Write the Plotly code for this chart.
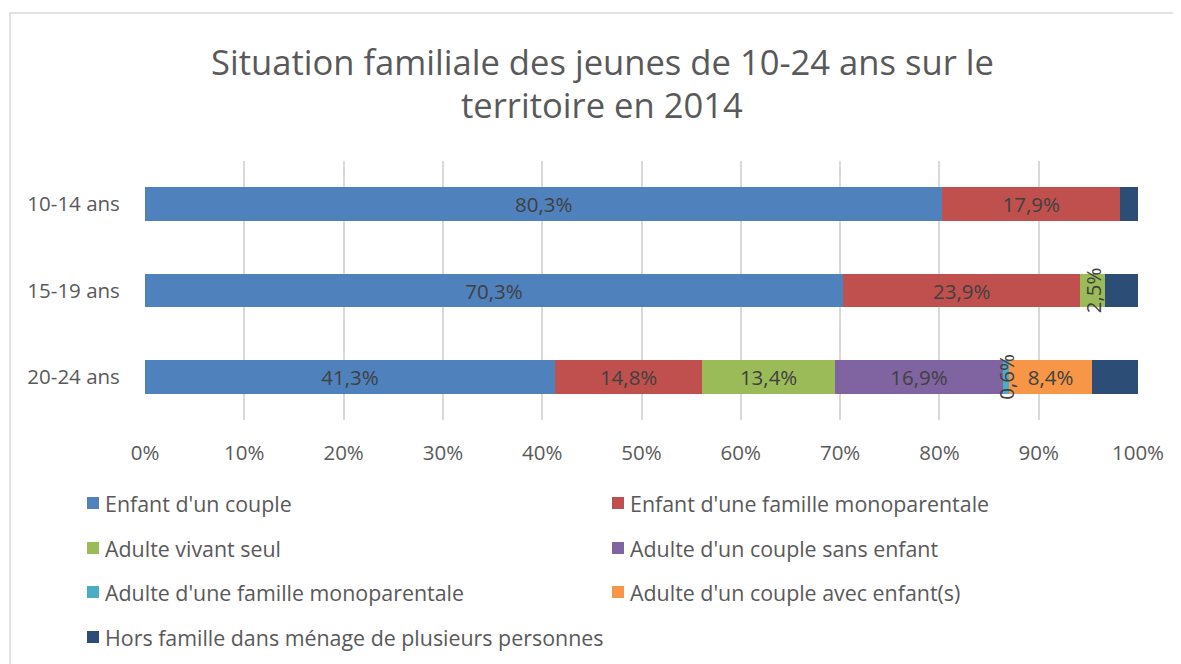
import plotly.graph_objects as go

categories = ["10-14 ans", "15-19 ans", "20-24 ans"]
series_names = [
    "Enfant d'un couple",
    "Enfant d'une famille monoparentale",
    "Adulte vivant seul",
    "Adulte d'un couple sans enfant",
    "Adulte d'une famille monoparentale",
    "Adulte d'un couple avec enfant(s)",
    "Hors famille dans ménage de plusieurs personnes",
]
enfant_couple = [80.3, 70.3, 41.3]
enfant_monoparentale = [17.9, 23.9, 14.8]
adulte_seul = [0.0, 2.5, 13.4]
adulte_couple_sans_enfant = [0.0, 0.0, 16.9]
adulte_monoparentale = [0.0, 0.0, 0.6]
adulte_couple_avec_enfant = [0.0, 0.0, 8.4]
hors_famille = [1.8, 3.3, 4.6]
colors = ["#4F81BD", "#C0504D", "#9BBB59", "#8064A2", "#4BACC6", "#F79646", "#2C4D75"]
x_ticks = [0, 10, 20, 30, 40, 50, 60, 70, 80, 90, 100]
x_tick_labels = ["0%", "10%", "20%", "30%", "40%", "50%", "60%", "70%", "80%", "90%", "100%"]
title_lines = ["Situation familiale des jeunes de 10-24 ans sur le", "territoire en 2014"]

series_values = [enfant_couple, enfant_monoparentale, adulte_seul,
                 adulte_couple_sans_enfant, adulte_monoparentale,
                 adulte_couple_avec_enfant, hors_famille]

FONT = "Open Sans"
LABEL_COLOR = "#404040"
TEXT_COLOR = "#595959"

OFF = 8  # page body margin
W, H = 1181 - OFF, 664 - OFF
L, T = 145 - OFF, 161 - OFF
PW, PH = 993, 259
R, B = W - L - PW, H - T - PH


def px(xp):
    return (xp - OFF - L) / PW


def py(yp):
    return (T + PH - (yp - OFF)) / PH


def fmt(v):
    return f"{v:.1f}".replace(".", ",") + "%"


fig = go.Figure()
annotations = []
shapes = []
cum = [0.0] * len(categories)
for i, (name, vals) in enumerate(zip(series_names, series_values)):
    texts = []
    for j, v in enumerate(vals):
        show = i < 6 and v > 0
        if show and v >= 5:
            texts.append(fmt(v))
        else:
            texts.append("")
            if show:
                annotations.append(dict(
                    x=cum[j] + v / 2, y=categories[j], xref="x", yref="y",
                    text=fmt(v), showarrow=False, textangle=-90,
                    font=dict(family=FONT, size=20.5, color=LABEL_COLOR)))
        cum[j] += v
    fig.add_trace(go.Bar(
        y=categories, x=vals, name=name, orientation="h",
        marker=dict(color=colors[i], line=dict(width=0)),
        text=texts, textposition="inside", insidetextanchor="middle",
        textangle=0, constraintext="none",
        textfont=dict(family=FONT, size=20.5, color=LABEL_COLOR),
        width=0.39, hoverinfo="skip", showlegend=False,
    ))

# legend drawn manually: two columns, four rows
row_y = [503, 548, 592, 637]
col_x = [87, 612]
for i, name in enumerate(series_names):
    r, c = divmod(i, 2)
    yc = row_y[r]
    x0 = col_x[c]
    shapes.append(dict(type="rect", xref="paper", yref="paper",
                       x0=px(x0), x1=px(x0 + 12), y0=py(yc + 6), y1=py(yc - 6),
                       line=dict(width=0), fillcolor=colors[i]))
    annotations.append(dict(x=px(x0 + 16), y=py(yc), xref="paper", yref="paper",
                            xanchor="left", yanchor="middle", text=name, showarrow=False,
                            font=dict(family=FONT, size=21.4, color=TEXT_COLOR)))

# title as two centred lines
for line, yc in zip(title_lines, [61, 104]):
    annotations.append(dict(x=px(602), y=py(yc), xref="paper", yref="paper",
                            xanchor="center", yanchor="middle", text=line, showarrow=False,
                            font=dict(family=FONT, size=34.6, color=TEXT_COLOR)))

# chart frame
shapes.append(dict(type="rect", xref="paper", yref="paper",
                   x0=px(10), x1=px(1195), y0=py(690), y1=py(13),
                   line=dict(color="#D9D9D9", width=1.5), fillcolor="rgba(0,0,0,0)", layer="below"))

fig.update_layout(
    width=W, height=H,
    margin=dict(l=L, r=R, t=T, b=B, autoexpand=False),
    paper_bgcolor="white", plot_bgcolor="white",
    separators=", ",
    barmode="stack",
    showlegend=False,
    xaxis=dict(range=[0, 100], tickvals=x_ticks, ticktext=x_tick_labels,
               showgrid=True, gridcolor="#D9D9D9", gridwidth=1.5, zeroline=False,
               showline=False, ticks="outside", ticklen=14, tickcolor="rgba(0,0,0,0)",
               automargin=False,
               tickfont=dict(family=FONT, size=20.5, color=TEXT_COLOR)),
    yaxis=dict(autorange="reversed", showgrid=False, zeroline=False, showline=False,
               ticks="outside", ticklen=20, tickcolor="rgba(0,0,0,0)", automargin=False,
               tickfont=dict(family=FONT, size=20.5, color=TEXT_COLOR)),
    annotations=annotations,
    shapes=shapes,
)

fig.write_html("out.html")
